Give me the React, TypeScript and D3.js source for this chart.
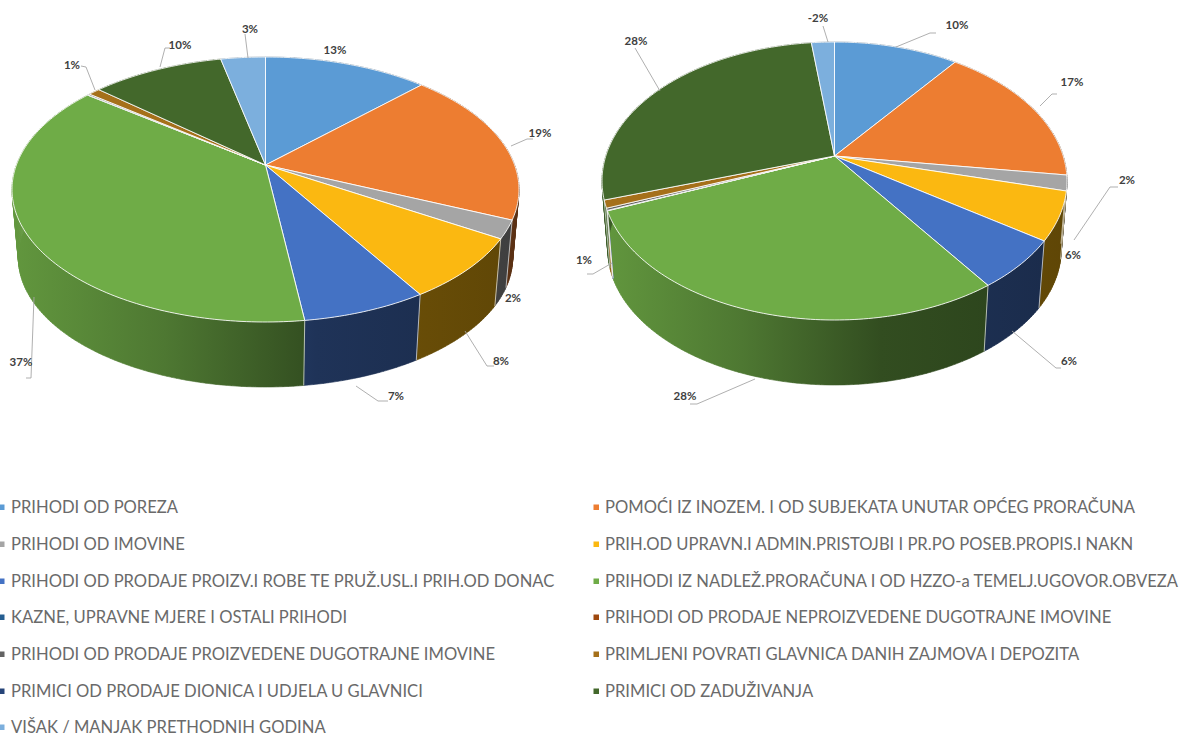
import React from 'react';
import * as d3 from 'd3';

// legend order is also slice order, clockwise from 12 o'clock
const categories = [
  'PRIHODI OD POREZA',
  'POMOĆI IZ INOZEM. I OD SUBJEKATA UNUTAR OPĆEG PRORAČUNA',
  'PRIHODI OD IMOVINE',
  'PRIH.OD UPRAVN.I ADMIN.PRISTOJBI I PR.PO POSEB.PROPIS.I NAKN',
  'PRIHODI OD PRODAJE PROIZV.I ROBE TE PRUŽ.USL.I PRIH.OD DONAC',
  'PRIHODI IZ NADLEŽ.PRORAČUNA I OD HZZO-a TEMELJ.UGOVOR.OBVEZA',
  'KAZNE, UPRAVNE MJERE I OSTALI PRIHODI',
  'PRIHODI OD PRODAJE NEPROIZVEDENE DUGOTRAJNE IMOVINE',
  'PRIHODI OD PRODAJE PROIZVEDENE DUGOTRAJNE IMOVINE',
  'PRIMLJENI POVRATI GLAVNICA DANIH ZAJMOVA I DEPOZITA',
  'PRIMICI OD PRODAJE DIONICA I UDJELA U GLAVNICI',
  'PRIMICI OD ZADUŽIVANJA',
  'VIŠAK / MANJAK PRETHODNIH GODINA',
];
const colors = [
  '#5b9bd5', '#ed7d31', '#a5a5a5', '#fbb811', '#4472c4', '#6fac47', '#255e91',
  '#9e480e', '#636363', '#a5701a', '#264478', '#43682b', '#7cafdd',
];

const leftValues = [12.5, 19.0, 2.2, 7.5, 6.7, 37.4, 0.05, 0, 0.15, 0.9, 0, 10.1, 3.4];
const rightValues = [10.3, 16.9, 1.8, 5.6, 5.7, 28.49, 0.05, 0, 0.25, 0.9, 0, 28.1, -1.9];

// two-column legend rows: category index per row
const legendLeftColumn = [0, 2, 4, 6, 8, 10, 12];
const legendRightColumn = [1, 3, 5, 7, 9, 11];
const legendRowY = [507, 544, 581, 617, 654, 691, 727];

type Spot = { index: number; x: number; y: number; leader?: [number, number][] };

const leftSpots: Spot[] = [
  { index: 0, x: 335, y: 50 },
  { index: 1, x: 540, y: 133, leader: [[511, 146], [527, 139], [533, 139]] },
  { index: 2, x: 513, y: 298 },
  { index: 3, x: 501, y: 361, leader: [[465, 331], [487, 366], [494, 366]] },
  { index: 4, x: 396, y: 396, leader: [[356, 386], [378, 401], [388, 401]] },
  { index: 5, x: 21, y: 362, leader: [[34, 297], [31, 378], [26, 378]] },
  { index: 9, x: 72, y: 65, leader: [[95, 90], [86, 67], [81, 66]] },
  { index: 11, x: 180, y: 45, leader: [[160, 67], [165, 48], [170, 48]] },
  { index: 12, x: 250, y: 29, leader: [[248, 58], [245, 34]] },
];
const rightSpots: Spot[] = [
  { index: 0, x: 957, y: 25, leader: [[896, 47], [930, 33], [936, 33]] },
  { index: 1, x: 1072, y: 82, leader: [[1040, 106], [1052, 94], [1057, 94]] },
  { index: 2, x: 1127, y: 180, leader: [[1074, 240], [1110, 187], [1118, 187]] },
  { index: 3, x: 1073, y: 255 },
  { index: 4, x: 1069, y: 361, leader: [[1012, 331], [1056, 368], [1061, 368]] },
  { index: 5, x: 685, y: 396, leader: [[755, 379], [697, 404], [690, 404]] },
  { index: 9, x: 584, y: 260, leader: [[612, 263], [593, 274], [587, 274]] },
  { index: 11, x: 636, y: 41, leader: [[660, 91], [635, 48]] },
  { index: 12, x: 818, y: 18, leader: [[828, 42], [823, 26]] },
];

// perspective layout of each disc: top / apex / bottom of the upper face
type Frame = { cx: number; rx: number; top: number; apex: number; bottom: number; depth: number; shrink: number };
const leftFrame: Frame = { cx: 265.5, rx: 253.5, top: 57, apex: 165, bottom: 322, depth: 65, shrink: 0.975 };
const rightFrame: Frame = { cx: 834.5, rx: 232.5, top: 42, apex: 156, bottom: 320, depth: 65, shrink: 0.975 };

// maps pie angle on a flat circle to the tilted disc, so the apex stays off-centre like in the chart
const projector = (f: Frame) => {
  const k = (2 * f.apex - f.top - f.bottom) / (f.bottom - f.top);
  const scaleY = f.bottom * (1 + k) - f.apex;
  const scaleX = f.rx * Math.sqrt(1 - k * k);
  return (angle: number): [number, number] => {
    const u = Math.sin(angle);
    const v = -Math.cos(angle);
    const w = 1 + k * v;
    return [f.cx + (scaleX * u) / w, (scaleY * v + f.apex) / w];
  };
};

const lineGen = d3.line<[number, number]>();

const shade = (color: string, factor: number) => {
  const c = d3.rgb(color);
  return d3.rgb(c.r * factor, c.g * factor, c.b * factor).formatHex();
};

const Pie3D: React.FC<{ values: number[]; frame: Frame; spots: Spot[]; id: string }> = ({ values, frame, spots, id }) => {
  const project = projector(frame);
  const arcs = d3
    .pie<number>()
    .sort(null)
    .value((d) => Math.abs(d))(values);
  const total = d3.sum(values, (d) => Math.abs(d));

  const midY = (frame.top + frame.bottom) / 2;
  const lower = (p: [number, number]): [number, number] => [
    frame.cx + (p[0] - frame.cx) * frame.shrink,
    midY + frame.depth + (frame.bottom - midY) * (1 - frame.shrink) + (p[1] - midY) * frame.shrink,
  ];

  const rim = (a0: number, a1: number) => {
    const n = Math.max(2, Math.ceil(((a1 - a0) * 180) / Math.PI));
    return d3.range(n + 1).map((i) => project(a0 + ((a1 - a0) * i) / n));
  };

  const slices = arcs.filter((d) => d.endAngle > d.startAngle);

  // swept wall: one small quad per rim step, so the outline follows the tangent at both sides
  const wall = (r: [number, number][]) =>
    d3
      .pairs(r)
      .map(([a, b]) => (lineGen([a, b, lower(b), lower(a)]) ?? '') + 'Z')
      .join('');

  return (
    <g>
      <defs>
        {slices.map((d) => (
          <linearGradient
            key={d.index}
            id={`${id}-side-${d.index}`}
            gradientUnits="userSpaceOnUse"
            x1={frame.cx - frame.rx}
            x2={frame.cx + frame.rx}
            y1={0}
            y2={0}
          >
            <stop offset="0" stopColor={shade(colors[d.index], 0.88)} />
            <stop offset="0.3" stopColor={shade(colors[d.index], 0.7)} />
            <stop offset="0.6" stopColor={shade(colors[d.index], 0.45)} />
            <stop offset="1" stopColor={shade(colors[d.index], 0.38)} />
          </linearGradient>
        ))}
      </defs>
      {/* side wall */}
      {slices.map((d) => {
        const r = rim(d.startAngle, d.endAngle);
        const fill = `url(#${id}-side-${d.index})`;
        return <path key={d.index} d={wall(r)} fill={fill} stroke={fill} strokeWidth={0.6} />;
      })}
      {slices.map((d) => {
        const p = project(d.endAngle);
        return (
          <path
            key={d.index}
            d={lineGen([p, lower(p)]) ?? ''}
            stroke="#fff"
            strokeOpacity={0.7}
            strokeWidth={0.9}
            fill="none"
          />
        );
      })}
      {/* top face */}
      {slices.map((d) => (
        <path
          key={d.index}
          d={(lineGen([[frame.cx, frame.apex], ...rim(d.startAngle, d.endAngle)]) ?? '') + 'Z'}
          fill={colors[d.index]}
          stroke="#fff"
          strokeOpacity={0.85}
          strokeWidth={1}
          strokeLinejoin="round"
        />
      ))}
      {/* leaders and labels */}
      {spots.map((s) => (
        <g key={s.index}>
          {s.leader && <path d={lineGen(s.leader) ?? ''} fill="none" stroke="#a6a6a6" strokeWidth={0.9} />}
          <text
            x={s.x}
            y={s.y}
            dy="0.35em"
            textAnchor="middle"
            fontFamily="Lato, 'Noto Sans', sans-serif"
            fontSize={11.5}
            fontWeight={700}
            fill="#404040"
          >
            {`${values[s.index] < 0 ? '-' : ''}${Math.round((Math.abs(values[s.index]) / total) * 100)}%`}
          </text>
        </g>
      ))}
    </g>
  );
};

const LegendColumn: React.FC<{ rows: number[]; swatchX: number; textX: number }> = ({ rows, swatchX, textX }) => (
  <g>
    {rows.map((cat, i) => (
      <g key={cat}>
        <rect x={swatchX} y={legendRowY[i] - 2.5} width={5.5} height={5.5} fill={colors[cat]} />
        <text
          x={textX}
          y={legendRowY[i]}
          dy="0.35em"
          fontFamily="Lato, 'Noto Sans', sans-serif"
          fontSize={16.6}
          fill="#6a6a6a"
        >
          {categories[cat]}
        </text>
      </g>
    ))}
  </g>
);

export default function App() {
  return (
    <svg
      width={1179}
      height={733}
      viewBox="0 0 1179 733"
      style={{ position: 'absolute', left: 0, top: 0, background: '#fff' }}
    >
      <Pie3D id="left" values={leftValues} frame={leftFrame} spots={leftSpots} />
      <Pie3D id="right" values={rightValues} frame={rightFrame} spots={rightSpots} />
      <LegendColumn rows={legendLeftColumn} swatchX={-1} textX={11} />
      <LegendColumn rows={legendRightColumn} swatchX={593.5} textX={605} />
    </svg>
  );
}
